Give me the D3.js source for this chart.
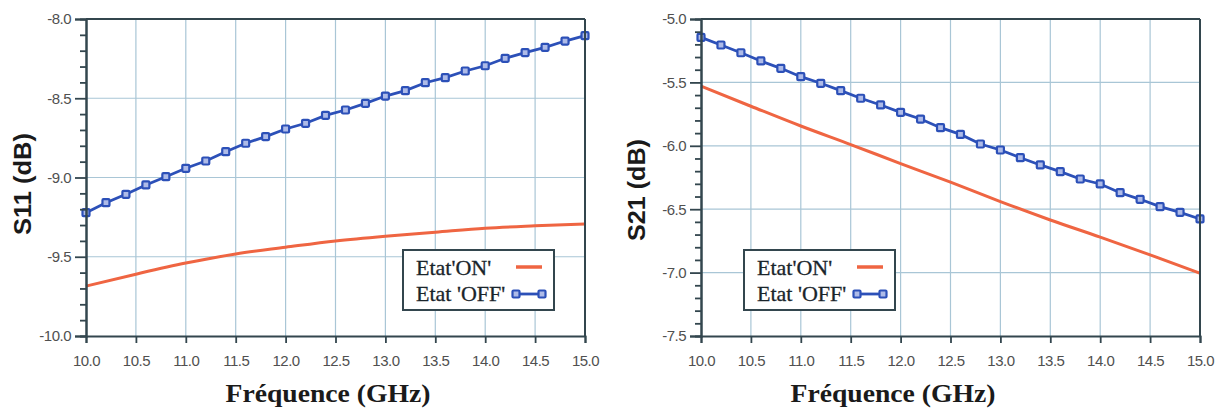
<!DOCTYPE html>
<html>
<head>
<meta charset="utf-8">
<script src="https://cdn.jsdelivr.net/npm/d3@7/dist/d3.min.js"></script>
<style>
  html, body { margin: 0; padding: 0; background: #ffffff; }
  svg { display: block; }
</style>
</head>
<body>
<svg id="chart" width="1227" height="412"></svg>
<script>
// ---------- DATA ----------
const freqOff = [10.0,10.2,10.4,10.6,10.8,11.0,11.2,11.4,11.6,11.8,12.0,12.2,12.4,12.6,12.8,13.0,13.2,13.4,13.6,13.8,14.0,14.2,14.4,14.6,14.8,15.0];
const freqOn = [10.0,10.5,11.0,11.5,12.0,12.5,13.0,13.5,14.0,14.5,15.0];

const s11On  = [-9.685,-9.61,-9.54,-9.482,-9.44,-9.40,-9.37,-9.345,-9.32,-9.305,-9.293];
const s11Off = [-9.222,-9.159,-9.106,-9.047,-8.995,-8.942,-8.896,-8.837,-8.784,-8.742,-8.694,-8.658,-8.608,-8.574,-8.532,-8.486,-8.452,-8.402,-8.370,-8.328,-8.295,-8.248,-8.212,-8.179,-8.139,-8.105];

const s21On  = [-5.53,-5.688,-5.844,-5.99,-6.14,-6.287,-6.44,-6.585,-6.72,-6.86,-7.005];
const s21Off = [-5.145,-5.205,-5.266,-5.331,-5.389,-5.455,-5.507,-5.565,-5.625,-5.678,-5.736,-5.789,-5.857,-5.910,-5.986,-6.033,-6.094,-6.151,-6.204,-6.262,-6.301,-6.370,-6.422,-6.480,-6.525,-6.577];

const xTicks = [10.0,10.5,11.0,11.5,12.0,12.5,13.0,13.5,14.0,14.5,15.0];
const s11Ticks = [-8.0,-8.5,-9.0,-9.5,-10.0];
const s21Ticks = [-5.0,-5.5,-6.0,-6.5,-7.0,-7.5];

const legendLabels = ["Etat'ON'", "Etat 'OFF'"];
const xTitle = "Fréquence (GHz)";
const yTitles = ["S11 (dB)", "S21 (dB)"];

// ---------- STYLE ----------
const C = {
  frame: "#33464e",
  grid: "#a9c6d6",
  on: "#ef6542",
  off: "#2c50b8",
  markerFill: "#aebbe8",
  tick: "#505050"
};

const svg = d3.select("#chart");

function minorTicks(domain) {
  const lo = Math.min(domain[0], domain[1]), hi = Math.max(domain[0], domain[1]);
  const out = [];
  for (let v = Math.round(lo * 10); v <= Math.round(hi * 10); v++) {
    if (v % 5 !== 0) out.push(v / 10);
  }
  return out;
}

function drawPanel(cfg) {
  const { x0, x1, y0, y1, yDomain, yTicks, onVals, offVals, yTitle, yTitleX, yTitleY, xTitleX, legend } = cfg;
  const g = svg.append("g");
  const x = d3.scaleLinear().domain([10, 15]).range([x0, x1]);
  const y = d3.scaleLinear().domain(yDomain).range([y0, y1]);

  // grid
  g.append("g").selectAll("line.v").data(xTicks.slice(1, -1)).join("line")
    .attr("x1", d => x(d)).attr("x2", d => x(d)).attr("y1", y0).attr("y2", y1)
    .attr("stroke", C.grid).attr("stroke-width", 1.2);
  g.append("g").selectAll("line.h").data(yTicks.slice(1, -1)).join("line")
    .attr("x1", x0).attr("x2", x1).attr("y1", d => y(d)).attr("y2", d => y(d))
    .attr("stroke", C.grid).attr("stroke-width", 1.2);

  // series ON
  const lineOn = d3.line().x((d, i) => x(freqOn[i])).y(d => y(d)).curve(d3.curveMonotoneX);
  g.append("path").attr("d", lineOn(onVals)).attr("fill", "none")
    .attr("stroke", C.on).attr("stroke-width", 3);

  // series OFF
  const lineOff = d3.line().x((d, i) => x(freqOff[i])).y(d => y(d));
  g.append("path").attr("d", lineOff(offVals)).attr("fill", "none")
    .attr("stroke", C.off).attr("stroke-width", 2.8);
  g.append("g").selectAll("rect").data(offVals).join("rect")
    .attr("x", (d, i) => x(freqOff[i]) - 3.5).attr("y", d => y(d) - 3.5)
    .attr("width", 7).attr("height", 7).attr("rx", 1)
    .attr("fill", C.markerFill).attr("stroke", C.off).attr("stroke-width", 2.2);

  // frame top/right
  g.append("line").attr("x1", x0).attr("x2", x1).attr("y1", y0).attr("y2", y0)
    .attr("stroke", C.frame).attr("stroke-width", 2);
  g.append("line").attr("x1", x1).attr("x2", x1).attr("y1", y0).attr("y2", y1)
    .attr("stroke", C.frame).attr("stroke-width", 2);

  // axes
  const fmt = d => d.toFixed(1);
  const yAxis = g.append("g").attr("transform", `translate(${x0},0)`)
    .call(d3.axisLeft(y).tickValues(yTicks).tickSize(11).tickPadding(4).tickFormat(fmt));
  const yMinor = g.append("g").attr("transform", `translate(${x0},0)`)
    .call(d3.axisLeft(y).tickValues(minorTicks(yDomain)).tickSize(6).tickFormat(""));
  const xAxis = g.append("g").attr("transform", `translate(0,${y1})`)
    .call(d3.axisBottom(x).tickValues(xTicks).tickSize(7).tickPadding(12).tickFormat(fmt));
  [yAxis, yMinor, xAxis].forEach(a => {
    a.select(".domain").attr("stroke", C.frame).attr("stroke-width", 2);
    a.selectAll(".tick line").attr("stroke", C.frame).attr("stroke-width", 1.8);
    a.selectAll("text").attr("fill", C.tick).attr("font-family", "Liberation Sans, Arial, sans-serif")
      .attr("font-size", "15px").attr("letter-spacing", "-0.5px");
  });

  // titles
  g.append("text").attr("x", xTitleX).attr("y", 402).attr("text-anchor", "middle")
    .attr("font-family", "Liberation Serif, serif").attr("font-weight", "bold")
    .attr("font-size", "25px").attr("fill", "#1a1a1a")
    .attr("textLength", 205).attr("lengthAdjust", "spacingAndGlyphs")
    .text(xTitle);
  g.append("text").attr("transform", `translate(${yTitleX},${yTitleY}) rotate(-90)`)
    .attr("text-anchor", "middle")
    .attr("font-family", "Liberation Sans, Arial, sans-serif").attr("font-weight", "bold")
    .attr("font-size", "23px").attr("fill", "#1a1a1a")
    .attr("textLength", 102).attr("lengthAdjust", "spacingAndGlyphs")
    .text(yTitle);

  // legend
  const lg = g.append("g").attr("transform", `translate(${legend[0]},${legend[1]})`);
  lg.append("rect").attr("x", 0).attr("y", 0).attr("width", 151).attr("height", 60)
    .attr("fill", "#ffffff").attr("stroke", C.frame).attr("stroke-width", 2);
  lg.selectAll("text").data(legendLabels).join("text")
    .attr("x", 13).attr("y", (d, i) => 25 + i * 26)
    .attr("font-family", "Liberation Serif, serif").attr("font-size", "22px")
    .attr("fill", "#1a252b").attr("stroke", "#1a252b").attr("stroke-width", 0.3)
    .text(d => d);
  lg.append("line").attr("x1", 113).attr("x2", 139).attr("y1", 17).attr("y2", 17)
    .attr("stroke", C.on).attr("stroke-width", 3.5);
  lg.append("line").attr("x1", 113).attr("x2", 139).attr("y1", 44).attr("y2", 44)
    .attr("stroke", C.off).attr("stroke-width", 2.8);
  lg.selectAll("rect.m").data([113, 139]).join("rect").attr("class", "m")
    .attr("x", d => d - 3.5).attr("y", 40.5).attr("width", 7).attr("height", 7).attr("rx", 1)
    .attr("fill", C.markerFill).attr("stroke", C.off).attr("stroke-width", 2.2);
}

drawPanel({
  x0: 86, x1: 585, y0: 19, y1: 336,
  yDomain: [-8.0, -10.0], yTicks: s11Ticks,
  onVals: s11On, offVals: s11Off,
  yTitle: yTitles[0], yTitleX: 31, yTitleY: 184, xTitleX: 328,
  legend: [403, 250]
});
drawPanel({
  x0: 701, x1: 1200, y0: 19, y1: 336,
  yDomain: [-5.0, -7.5], yTicks: s21Ticks,
  onVals: s21On, offVals: s21Off,
  yTitle: yTitles[1], yTitleX: 645, yTitleY: 190, xTitleX: 893,
  legend: [744, 250]
});
</script>
</body>
</html>
